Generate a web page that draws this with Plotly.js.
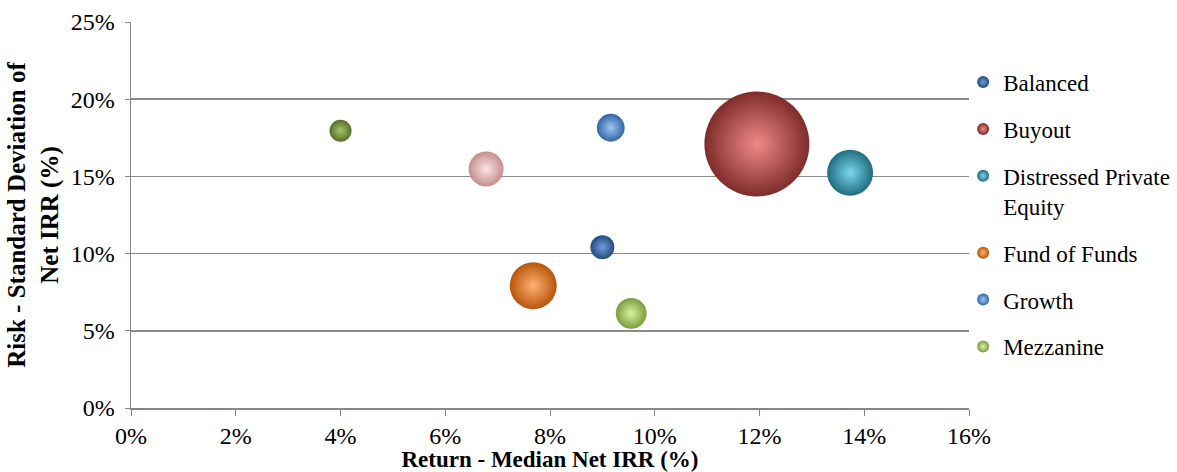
<!DOCTYPE html>
<html><head><meta charset="utf-8">
<script src="https://cdn.plot.ly/plotly-3.0.1.min.js"></script>
<style>body{margin:0;background:#fff}#chart{width:1177px;height:472px}</style>
</head><body><div id="chart"></div>
<script>
const names = ["Balanced","Buyout","Distressed Private<br>Equity","Fund of Funds","Growth","Mezzanine","Real Estate","Venture Capital"];
const returns = [0.090, 0.1195, 0.1373, 0.0768, 0.0916, 0.0955, 0.0400, 0.0678];
const risks   = [0.1041, 0.1710, 0.1524, 0.0792, 0.1815, 0.0613, 0.1796, 0.1548];
const sizes   = [5.2, 100, 19.2, 20.0, 7.0, 8.6, 4.4, 11.1];
const baseColors  = ["#244d80","#7e2c2a","#216b7e","#b8550a","#3266a6","#7a9c3e","#566d28","#c48e8d"];
const lightColors = ["#6c9cd8","#f08a86","#7ad8f0","#ffb276","#9cc6f6","#dcf2a2","#a8c86c","#fde4e4"];
const inLegend = [true,true,true,true,true,true,false,false];

const traces = names.map((n,i)=>({
  type:'scatter', mode:'markers', name:n,
  x:[returns[i]], y:[risks[i]],
  legendgroup:'g'+i, showlegend:inLegend[i],
  marker:{size:[sizes[i]], sizemode:'area', sizeref:4*100/(2*105*105), opacity:1,
    color:baseColors[i], line:{width:0},
    gradient:{type:'radial', color:lightColors[i]}}
}));

const fam = '"Liberation Serif","Times New Roman",serif';
const tickFont = {family:fam, color:'#000', size:24};
const layout = {
  width:1177, height:472,
  margin:{l:131, r:208, t:22, b:64, autoexpand:false},
  paper_bgcolor:'#fff', plot_bgcolor:'#fff',
  font:{family:fam, color:'#000', size:22}, showlegend:true,
  legend:{x:0.993, xanchor:'left', y:0.9, yanchor:'top', valign:'top',
    font:{family:fam,size:23,color:'#000'},
    itemsizing:'constant', tracegroupgap:14, bgcolor:'rgba(0,0,0,0)', traceorder:'grouped'},
  xaxis:{range:[0,0.16], dtick:0.02, tickformat:'.0%', showgrid:false, zeroline:false,
    showline:true, linecolor:'#868686', linewidth:1.5, ticks:'outside', ticklen:6, tickcolor:'#868686',
    tickfont:tickFont, fixedrange:true, automargin:false,
    title:{text:'<b>Return - Median Net IRR (%)</b>', font:{family:fam,color:'#000',size:23}, standoff:0}},
  yaxis:{range:[0,0.25], dtick:0.05, tickformat:'.0%', showgrid:true, gridcolor:'#8c8c8c', gridwidth:1.5,
    zeroline:false, showline:true, linecolor:'#868686', linewidth:1.5, ticks:'outside', ticklen:5, tickcolor:'#868686',
    tickfont:tickFont, fixedrange:true, automargin:false, ticklabelstandoff:5,
    title:{text:'<b>Risk - Standard Deviation of<br>Net IRR (%)</b>', font:{family:fam,color:'#000',size:25}, standoff:5}}
};
Plotly.newPlot('chart', traces, layout, {displayModeBar:false, staticPlot:true});
</script></body></html>
